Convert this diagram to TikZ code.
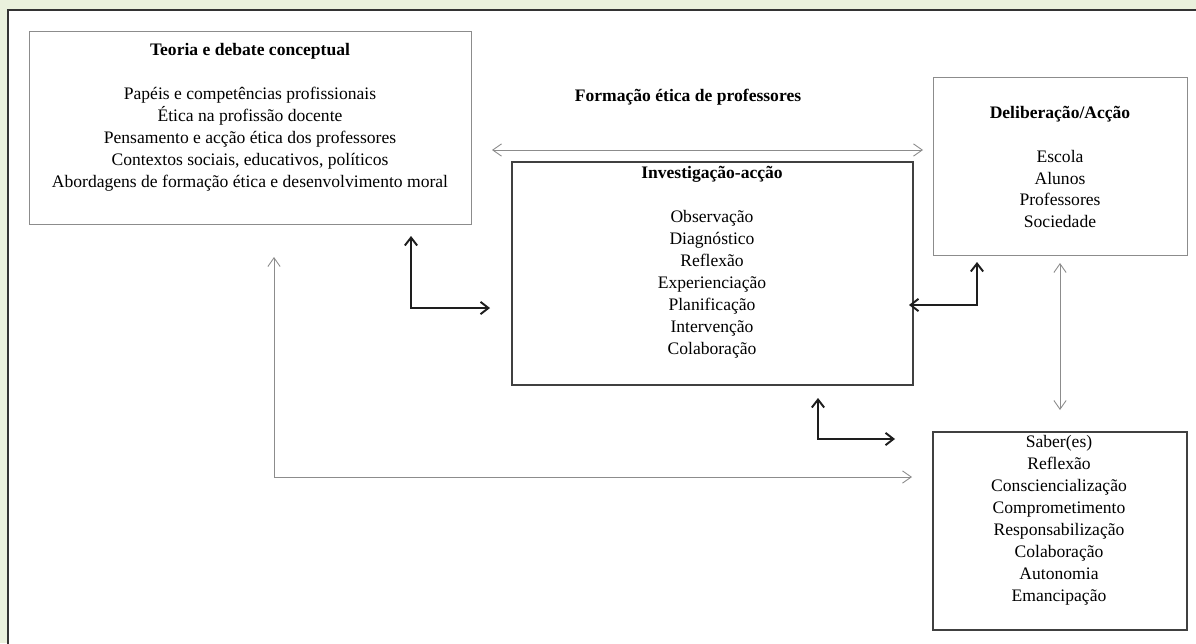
\documentclass[tikz,border=0pt]{standalone}
\usepackage{fontspec}
\setmainfont{Liberation Serif}
\usetikzlibrary{arrows.meta}
\definecolor{framebg}{RGB}{234,241,221}
\definecolor{thinline}{RGB}{140,140,140}
\definecolor{boldline}{RGB}{30,30,30}

\begin{document}
\begin{tikzpicture}[x=0.02cm, y=-0.02cm]

\tikzstyle{b}=[draw=thinline, line width=0.5pt, inner sep=0pt];
\tikzstyle{bb}=[draw=boldline!85, line width=0.8pt, inner sep=0pt];
\tikzstyle{t}=[align=center, inner sep=0pt, font=\fontsize{10}{12.5}\selectfont];
\tikzstyle{g}=[{Straight Barb[length=5pt,width=7pt]}-{Straight Barb[length=5pt,width=7pt]}, draw=thinline, line width=0.5pt];
\tikzstyle{k}=[{Straight Barb[length=4.5pt,width=7pt]}-{Straight Barb[length=4.5pt,width=7pt]}, draw=boldline, line width=1.1pt];

\useasboundingbox (0,0) rectangle (1196,643);
\clip (0,0) rectangle (1196,643);
\fill[framebg] (0,0) rectangle (1196,643);
\draw[fill=white, draw=black!80, line width=1.2pt] (8,10) rectangle (1230,680);

% boxes
\node[b, minimum width=8.84cm, minimum height=3.86cm] (teoria) at (250,127.5) {};
\node[bb, minimum width=8.02cm, minimum height=4.46cm] (invest) at (712.5,273.5) {};
\node[b, minimum width=5.08cm, minimum height=3.56cm] (delib) at (1060,166) {};
\node[bb, minimum width=5.08cm, minimum height=3.96cm] (saber) at (1060,531) {};

% texts
\node[t] (teoria_t) at (250,117) {\textbf{Teoria e debate conceptual}\\[12.5pt]
  Papéis e competências profissionais\\ Ética na profissão docente\\
  Pensamento e acção ética dos professores\\ Contextos sociais, educativos, políticos\\
  Abordagens de formação ética e desenvolvimento moral};
\node[t] (invest_t) at (712,262.5) {\textbf{Investigação-acção}\\[12.5pt]
  Observação\\ Diagnóstico\\ Reflexão\\ Experienciação\\ Planificação\\ Intervenção\\ Colaboração};
\node[t] (delib_t) at (1060,167) {\textbf{Deliberação/Acção}\\[12.5pt]
  Escola\\ Alunos\\ Professores\\ Sociedade};
\node[t] (saber_t) at (1059,520.5) {Saber(es)\\ Reflexão\\ Consciencialização\\ Comprometimento\\
  Responsabilização\\ Colaboração\\ Autonomia\\ Emancipação};
\node[t] (formacao) at (688,97) {\textbf{Formação ética de professores}};

% arrow ends
\coordinate (top_l) at (492,150);
\coordinate (top_r) at (923,150);
\coordinate (k1_a) at (411,236);
\coordinate (k1_b) at (490,308);
\coordinate (k2_a) at (909,305);
\coordinate (k2_b) at (977,262);
\coordinate (k3_a) at (818,398);
\coordinate (k3_b) at (895,439);
\coordinate (g_a) at (1060,263);
\coordinate (g_b) at (1060,410);
\coordinate (l_a) at (274,257);
\coordinate (l_b) at (912,477);

\draw[g] (top_l) -- (top_r);
\draw[g] (g_a) -- (g_b);
\draw[g] (l_a) |- (l_b);
\draw[k] (k1_a) |- (k1_b);
\draw[k] (k2_a) -| (k2_b);
\draw[k] (k3_a) |- (k3_b);
\end{tikzpicture}
\end{document}
